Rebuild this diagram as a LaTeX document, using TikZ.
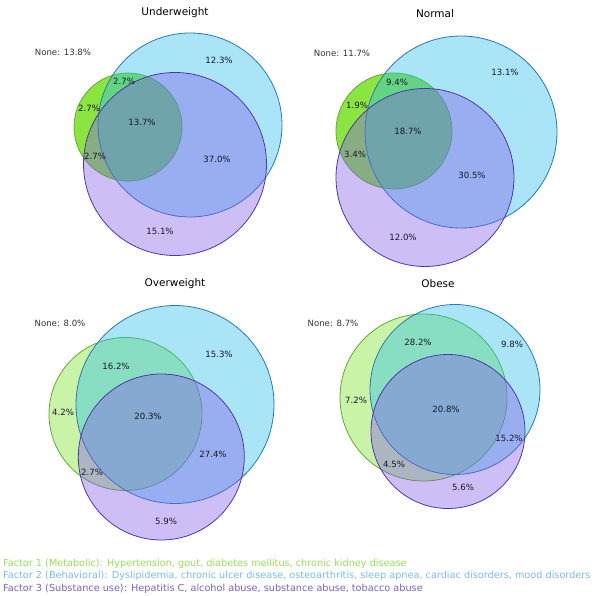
\documentclass[tikz,border=0pt]{standalone}
\usepackage{fontspec}
\setmainfont{DejaVu Sans}
\usetikzlibrary{positioning}

\definecolor{metab}{RGB}{100,220,0}
\definecolor{metabline}{RGB}{95,175,40}
\definecolor{behav}{RGB}{40,190,235}
\definecolor{behavline}{RGB}{40,120,190}
\definecolor{subst}{RGB}{130,92,230}
\definecolor{substline}{RGB}{80,55,170}
\definecolor{pcttext}{RGB}{25,25,45}
\definecolor{legmetab}{RGB}{150,225,80}
\definecolor{legbehav}{RGB}{120,190,230}
\definecolor{legsubst}{RGB}{120,100,190}

\begin{document}
\begin{tikzpicture}[x=1pt, y=-1pt,
    every node/.style={font=\fontsize{8.6}{10}\selectfont},
    metabset/.style={fill=metab, fill opacity=#1, draw=metabline, line width=0.8pt},
    behavset/.style={fill=behav, fill opacity=0.4, draw=behavline, line width=0.8pt},
    substset/.style={fill=subst, fill opacity=0.4, draw=substline, line width=0.8pt},
    pct/.style={text=pcttext, inner sep=0pt},
    nonelabel/.style={text=black!80, inner sep=0pt},
    paneltitle/.style={font=\fontsize{10.5}{12}\selectfont, inner sep=0pt},
    legline/.style={anchor=base west, inner sep=0pt, font=\fontsize{9.7}{11}\selectfont}]
  \useasboundingbox (0,0) rectangle (600,596);

  % Underweight
  \coordinate (uwG) at (128,127);
  \coordinate (uwB) at (190,125);
  \coordinate (uwP) at (175,164);
  \draw[metabset=0.75] (uwG) circle (54);
  \draw[behavset] (uwB) circle (92);
  \draw[substset] (uwP) circle (91.5);
  \node[paneltitle] (uwTitle) at (175,13) {Underweight};
  \node[nonelabel]  (uwNone)  at (63,52)  {None: 13.8\%};
  \node[pct] (uwB1)   at (219,60)  {12.3\%};
  \node[pct] (uwGB)   at (124,81)  {2.7\%};
  \node[pct] (uwG1)   at (89,108)  {2.7\%};
  \node[pct] (uwGBP)  at (142,122) {13.7\%};
  \node[pct] (uwBP)   at (217,159) {37.0\%};
  \node[pct] (uwGP)   at (95,156)  {2.7\%};
  \node[pct] (uwP1)   at (160,231) {15.1\%};

  % Normal
  \coordinate (nmG) at (394,131);
  \coordinate (nmB) at (461,132);
  \coordinate (nmP) at (425,177.5);
  \draw[metabset=0.75] (nmG) circle (58);
  \draw[behavset] (nmB) circle (96);
  \draw[substset] (nmP) circle (89);
  \node[paneltitle] (nmTitle) at (435,14) {Normal};
  \node[nonelabel]  (nmNone)  at (342,53) {None: 11.7\%};
  \node[pct] (nmB1)   at (505,72)  {13.1\%};
  \node[pct] (nmGB)   at (397,82)  {9.4\%};
  \node[pct] (nmG1)   at (357,105) {1.9\%};
  \node[pct] (nmGBP)  at (408,131) {18.7\%};
  \node[pct] (nmGP)   at (355,154) {3.4\%};
  \node[pct] (nmBP)   at (472,175) {30.5\%};
  \node[pct] (nmP1)   at (403,237) {12.0\%};

  % Overweight
  \coordinate (owG) at (125.5,414);
  \coordinate (owB) at (175,404.5);
  \coordinate (owP) at (161.3,457);
  \draw[metabset=0.35] (owG) circle (76.5);
  \draw[behavset] (owB) circle (99);
  \draw[substset] (owP) circle (83);
  \node[paneltitle] (owTitle) at (175,284) {Overweight};
  \node[nonelabel]  (owNone)  at (60,323)  {None: 8.0\%};
  \node[pct] (owB1)   at (219,354) {15.3\%};
  \node[pct] (owGB)   at (116,366) {16.2\%};
  \node[pct] (owG1)   at (63,412)  {4.2\%};
  \node[pct] (owGBP)  at (148,416) {20.3\%};
  \node[pct] (owBP)   at (213,454) {27.4\%};
  \node[pct] (owGP)   at (92,472)  {2.7\%};
  \node[pct] (owP1)   at (166,521) {5.9\%};

  % Obese
  \coordinate (obG) at (423.5,397.5);
  \coordinate (obB) at (455,389.5);
  \coordinate (obP) at (448,431.5);
  \draw[metabset=0.35] (obG) circle (83.5);
  \draw[behavset] (obB) circle (85);
  \draw[substset] (obP) circle (77);
  \node[paneltitle] (obTitle) at (438,284) {Obese};
  \node[nonelabel]  (obNone)  at (333,323) {None: 8.7\%};
  \node[pct] (obGB)   at (418,342) {28.2\%};
  \node[pct] (obB1)   at (512,344) {9.8\%};
  \node[pct] (obG1)   at (356,400) {7.2\%};
  \node[pct] (obGBP)  at (446,409) {20.8\%};
  \node[pct] (obBP)   at (509,438) {15.2\%};
  \node[pct] (obGP)   at (394,464) {4.5\%};
  \node[pct] (obP1)   at (463,487) {5.6\%};

  % legend
  \node[legline, text=legmetab] (legMetab) at (3,566)
    {Factor 1 (Metabolic): Hypertension, gout, diabetes mellitus, chronic kidney disease};
  \node[legline, text=legbehav] (legBehav) at (3,578.5)
    {Factor 2 (Behavioral): Dyslipidemia, chronic ulcer disease, osteoarthritis, sleep apnea, cardiac disorders, mood disorders};
  \node[legline, text=legsubst] (legSubst) at (3,591)
    {Factor 3 (Substance use): Hepatitis C, alcohol abuse, substance abuse, tobacco abuse};
\end{tikzpicture}
\end{document}
